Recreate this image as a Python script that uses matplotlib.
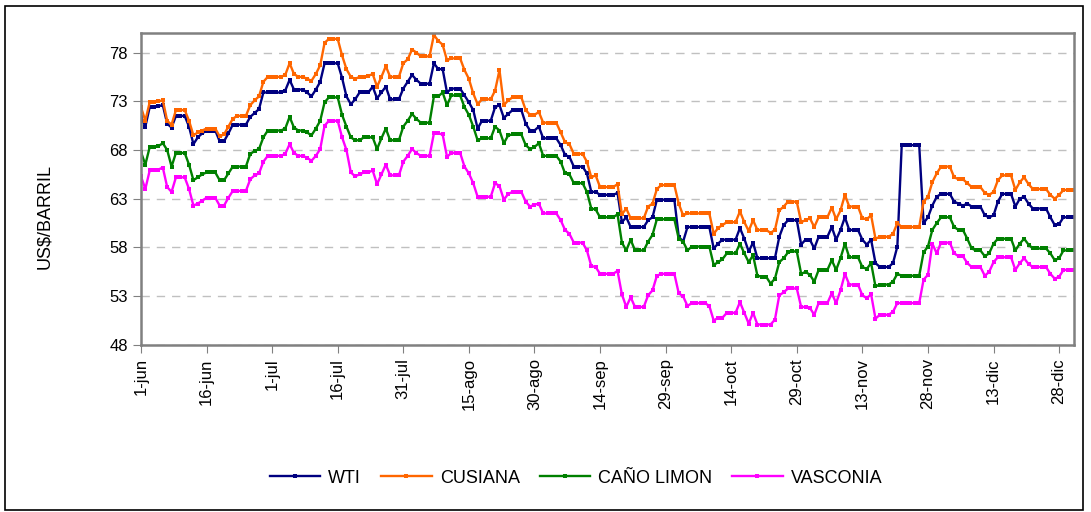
import numpy as np
import matplotlib
matplotlib.use('Agg')
import matplotlib.pyplot as plt

plt.rcParams['font.family'] = ['Liberation Sans', 'DejaVu Sans']

# precios diarios 1-jun .. 31-dic (US$/barril)
wti = [71.4, 70.4, 72.4, 72.4, 72.5, 72.6, 70.7, 70.3, 71.5, 71.5,
       71.5, 70.4, 68.6, 69.3, 69.7, 70.0, 70.0, 70.0, 68.9, 68.9,
       69.7, 70.6, 70.6, 70.6, 70.6, 71.4, 71.8, 72.2, 73.9, 73.9,
       73.9, 73.9, 73.9, 74.1, 75.2, 74.2, 74.2, 74.2, 73.9, 73.5,
       74.2, 75.0, 76.9, 76.9, 76.9, 76.9, 75.4, 73.5, 72.7, 73.2,
       73.9, 73.9, 73.9, 74.5, 73.3, 73.9, 74.5, 73.2, 73.2, 73.2,
       74.3, 75.0, 75.7, 75.2, 74.8, 74.8, 74.8, 76.9, 76.3, 76.3,
       73.9, 74.3, 74.3, 74.3, 73.6, 72.9, 72.1, 70.2, 71.0, 71.0,
       71.0, 72.4, 72.6, 71.3, 71.7, 72.1, 72.1, 72.1, 70.7, 70.0,
       70.0, 70.4, 69.2, 69.2, 69.2, 69.2, 68.5, 67.5, 67.3, 66.3,
       66.3, 66.3, 65.6, 63.7, 63.7, 63.4, 63.4, 63.4, 63.4, 63.6,
       60.6, 61.1, 60.1, 60.1, 60.1, 60.1, 60.8, 61.1, 62.9, 62.9,
       62.9, 62.9, 62.9, 59.1, 58.6, 60.1, 60.1, 60.1, 60.1, 60.1,
       60.1, 57.9, 58.4, 58.8, 58.8, 58.8, 58.8, 60.0, 58.9, 57.6,
       58.5, 56.9, 56.9, 56.9, 56.9, 56.9, 59.1, 60.3, 60.8, 60.8,
       60.8, 58.3, 58.8, 58.8, 57.9, 59.1, 59.1, 59.1, 60.1, 58.8,
       59.8, 61.1, 59.8, 59.8, 59.8, 58.8, 58.3, 58.8, 56.4, 56.0,
       56.0, 56.0, 56.4, 58.1, 68.5, 68.5, 68.5, 68.5, 68.5, 60.5,
       61.1, 62.3, 63.2, 63.5, 63.5, 63.5, 62.7, 62.5, 62.3, 62.5,
       62.2, 62.2, 62.2, 61.3, 61.1, 61.3, 62.7, 63.5, 63.5, 63.5,
       62.2, 63.0, 63.2, 62.5, 62.0, 62.0, 62.0, 62.0, 61.1, 60.3,
       60.4, 61.1, 61.1, 61.1]

cusiana = [72.4, 71.0, 72.9, 72.9, 73.0, 73.1, 71.0, 70.6, 72.1, 72.1,
           72.1, 71.0, 69.5, 69.8, 70.0, 70.2, 70.2, 70.2, 69.4, 69.6,
           70.4, 71.2, 71.5, 71.5, 71.5, 72.6, 73.1, 73.5, 75.0, 75.5,
           75.5, 75.5, 75.5, 75.7, 76.9, 75.8, 75.5, 75.5, 75.3, 75.1,
           75.8, 76.7, 79.0, 79.4, 79.4, 79.4, 77.7, 76.3, 75.5, 75.3,
           75.5, 75.5, 75.6, 75.8, 74.5, 75.5, 76.6, 75.5, 75.5, 75.5,
           76.9, 77.3, 78.3, 78.0, 77.6, 77.6, 77.6, 79.8, 79.2, 78.8,
           77.2, 77.4, 77.4, 77.4, 76.2, 75.3, 73.8, 72.7, 73.2, 73.2,
           73.2, 74.1, 76.2, 72.6, 73.1, 73.4, 73.4, 73.4, 72.1, 71.6,
           71.6, 71.9, 70.8, 70.8, 70.8, 70.8, 69.8, 68.8, 68.6, 67.6,
           67.6, 67.6, 66.8, 65.2, 65.4, 64.2, 64.2, 64.2, 64.2, 64.5,
           61.4, 62.0, 61.0, 61.0, 61.0, 61.0, 62.2, 62.5, 64.0, 64.4,
           64.4, 64.4, 64.4, 62.5, 61.3, 61.5, 61.5, 61.5, 61.5, 61.5,
           61.5, 59.4, 60.0, 60.3, 60.6, 60.6, 60.6, 61.7, 60.6, 59.7,
           60.8, 59.8, 59.8, 59.8, 59.5, 59.8, 61.8, 62.2, 62.7, 62.7,
           62.7, 60.6, 60.8, 61.0, 60.1, 61.1, 61.1, 61.1, 62.1, 60.9,
           61.8, 63.4, 62.2, 62.2, 62.2, 61.0, 60.9, 61.3, 58.9, 59.1,
           59.1, 59.1, 59.4, 60.5, 60.1, 60.1, 60.1, 60.1, 60.1, 62.7,
           63.2, 64.7, 65.6, 66.3, 66.3, 66.3, 65.2, 65.0, 65.0, 64.6,
           64.2, 64.2, 64.2, 63.6, 63.4, 63.7, 64.9, 65.4, 65.4, 65.4,
           63.9, 64.7, 65.2, 64.5, 64.0, 64.0, 64.0, 64.0, 63.4, 63.0,
           63.4, 63.9, 63.9, 63.9]

cano_limon = [67.8, 66.5, 68.3, 68.3, 68.4, 68.7, 68.0, 66.3, 67.7, 67.7,
              67.7, 66.5, 64.9, 65.2, 65.5, 65.7, 65.7, 65.7, 64.9, 64.9,
              65.6, 66.3, 66.3, 66.3, 66.3, 67.6, 67.9, 68.1, 69.3, 70.0,
              70.0, 70.0, 70.0, 70.2, 71.4, 70.3, 70.0, 70.0, 69.8, 69.5,
              70.2, 71.0, 72.9, 73.4, 73.4, 73.4, 71.6, 70.4, 69.3, 69.0,
              69.0, 69.3, 69.3, 69.3, 68.1, 69.2, 70.2, 69.0, 69.0, 69.0,
              70.4, 71.0, 71.7, 71.2, 70.8, 70.8, 70.8, 73.5, 73.5, 73.9,
              72.6, 73.6, 73.6, 73.6, 72.4, 71.6, 70.4, 69.0, 69.2, 69.2,
              69.2, 70.4, 70.0, 68.7, 69.5, 69.6, 69.6, 69.6, 68.5, 68.1,
              68.3, 68.7, 67.4, 67.4, 67.4, 67.4, 66.8, 65.6, 65.5, 64.6,
              64.6, 64.6, 63.7, 62.0, 61.9, 61.1, 61.1, 61.1, 61.1, 61.4,
              58.5, 57.7, 58.8, 57.7, 57.7, 57.7, 58.6, 59.3, 60.9, 60.9,
              60.9, 60.9, 60.9, 58.9, 58.6, 57.7, 58.1, 58.1, 58.1, 58.1,
              58.1, 56.2, 56.5, 56.8, 57.4, 57.4, 57.4, 58.4, 57.4, 56.5,
              57.2, 55.1, 55.0, 55.0, 54.3, 54.8, 56.5, 56.9, 57.5, 57.6,
              57.6, 55.3, 55.5, 55.2, 54.5, 55.7, 55.7, 55.7, 56.7, 55.7,
              56.9, 58.4, 57.0, 57.0, 57.0, 56.0, 55.8, 56.4, 54.0, 54.2,
              54.2, 54.2, 54.5, 55.3, 55.1, 55.1, 55.1, 55.1, 55.1, 57.5,
              58.1, 59.8, 60.5, 61.1, 61.1, 61.1, 60.1, 59.8, 59.8, 58.9,
              57.9, 57.7, 57.7, 57.1, 57.4, 58.4, 58.9, 58.9, 58.9, 58.9,
              57.7, 58.4, 58.9, 58.3, 57.9, 57.9, 57.9, 57.9, 57.4, 56.7,
              56.9, 57.7, 57.7, 57.7]

vasconia = [65.3, 64.0, 65.9, 65.9, 66.0, 66.2, 64.2, 63.7, 65.2, 65.2,
            65.2, 64.0, 62.3, 62.5, 62.8, 63.1, 63.1, 63.1, 62.3, 62.3,
            63.1, 63.8, 63.8, 63.8, 63.8, 65.0, 65.4, 65.6, 66.8, 67.4,
            67.4, 67.4, 67.4, 67.6, 68.6, 67.7, 67.4, 67.4, 67.2, 66.9,
            67.4, 68.1, 70.5, 71.0, 71.0, 71.0, 69.3, 68.0, 65.7, 65.3,
            65.5, 65.7, 65.7, 65.9, 64.5, 65.5, 66.5, 65.4, 65.4, 65.4,
            66.8, 67.4, 68.1, 67.7, 67.4, 67.4, 67.4, 69.7, 69.7, 69.6,
            67.3, 67.7, 67.7, 67.7, 66.3, 65.6, 64.6, 63.2, 63.2, 63.2,
            63.2, 64.6, 64.3, 62.9, 63.5, 63.7, 63.7, 63.7, 62.7, 62.2,
            62.4, 62.5, 61.5, 61.5, 61.5, 61.5, 60.8, 59.8, 59.4, 58.5,
            58.5, 58.5, 57.7, 56.1, 56.0, 55.3, 55.3, 55.3, 55.3, 55.6,
            53.2, 51.9, 52.9, 51.9, 51.9, 51.9, 53.1, 53.6, 55.1, 55.3,
            55.3, 55.3, 55.3, 53.3, 53.0, 52.0, 52.3, 52.3, 52.3, 52.3,
            52.0, 50.5, 50.8, 50.8, 51.3, 51.3, 51.3, 52.4, 51.3, 50.2,
            51.3, 50.1, 50.1, 50.1, 50.1, 50.6, 53.1, 53.4, 53.8, 53.8,
            53.8, 51.9, 51.9, 51.8, 51.1, 52.3, 52.3, 52.3, 53.3, 52.3,
            53.6, 55.3, 54.2, 54.2, 54.2, 53.1, 52.8, 53.2, 50.7, 51.1,
            51.1, 51.1, 51.4, 52.3, 52.3, 52.3, 52.3, 52.3, 52.3, 54.7,
            55.2, 58.4, 57.4, 58.5, 58.5, 58.5, 57.4, 57.1, 57.1, 56.4,
            56.0, 56.0, 56.0, 55.1, 55.5, 56.5, 57.0, 57.0, 57.0, 57.0,
            55.7, 56.4, 56.9, 56.3, 56.0, 56.0, 56.0, 56.0, 55.3, 54.8,
            55.0, 55.7, 55.7, 55.7]

tick_labels = ['1-jun', '16-jun', '1-jul', '16-jul', '31-jul', '15-ago', '30-ago',
               '14-sep', '29-sep', '14-oct', '29-oct', '13-nov', '28-nov',
               '13-dic', '28-dic']

x = np.arange(len(wti))

fig = plt.figure(figsize=(10.91, 5.12), dpi=100)
ax = fig.add_axes([0.1292, 0.3262, 0.8552, 0.6093])

series = [(wti, '#000080', 'WTI'),
          (cusiana, '#FF6600', 'CUSIANA'),
          (cano_limon, '#008000', 'CAÑO LIMON'),
          (vasconia, '#FF00FF', 'VASCONIA')]
for vals, col, name in series:
    ax.plot(x, vals, color=col, lw=1.7, marker='s', ms=2.5, mew=0, label=name)

ax.set_xlim(0, len(wti) - 0.6)
ax.set_ylim(48, 80)
ax.set_yticks(np.arange(48, 79, 5))
ax.set_xticks(np.arange(0, 211, 15))
ax.set_xticklabels(tick_labels, rotation=90, fontsize=12)
ax.tick_params(axis='y', labelsize=12, direction='out', length=6, color='#808080')
ax.tick_params(axis='x', direction='out', length=6, color='#808080')
ax.yaxis.grid(True, linestyle=(0, (6, 5)), color='#c0c0c0', lw=1)
ax.set_axisbelow(True)
for s in ax.spines.values():
    s.set_color('#808080')
    s.set_linewidth(1.8)

fig.text(0.041, 0.578, 'US$/BARRIL', rotation=90, fontsize=13, ha='center', va='center')

fig.legend(loc='center', bbox_to_anchor=(0.528, 0.066), ncol=4, frameon=False,
           fontsize=13, numpoints=1, handlelength=2.8, columnspacing=1.1,
           handletextpad=0.45)

# marco exterior
fig.patches.append(plt.Rectangle((0.005, 0.004), 0.988, 0.984, transform=fig.transFigure,
                                 fill=False, edgecolor='black', lw=1.2))

fig.savefig('out.png', dpi=100)
